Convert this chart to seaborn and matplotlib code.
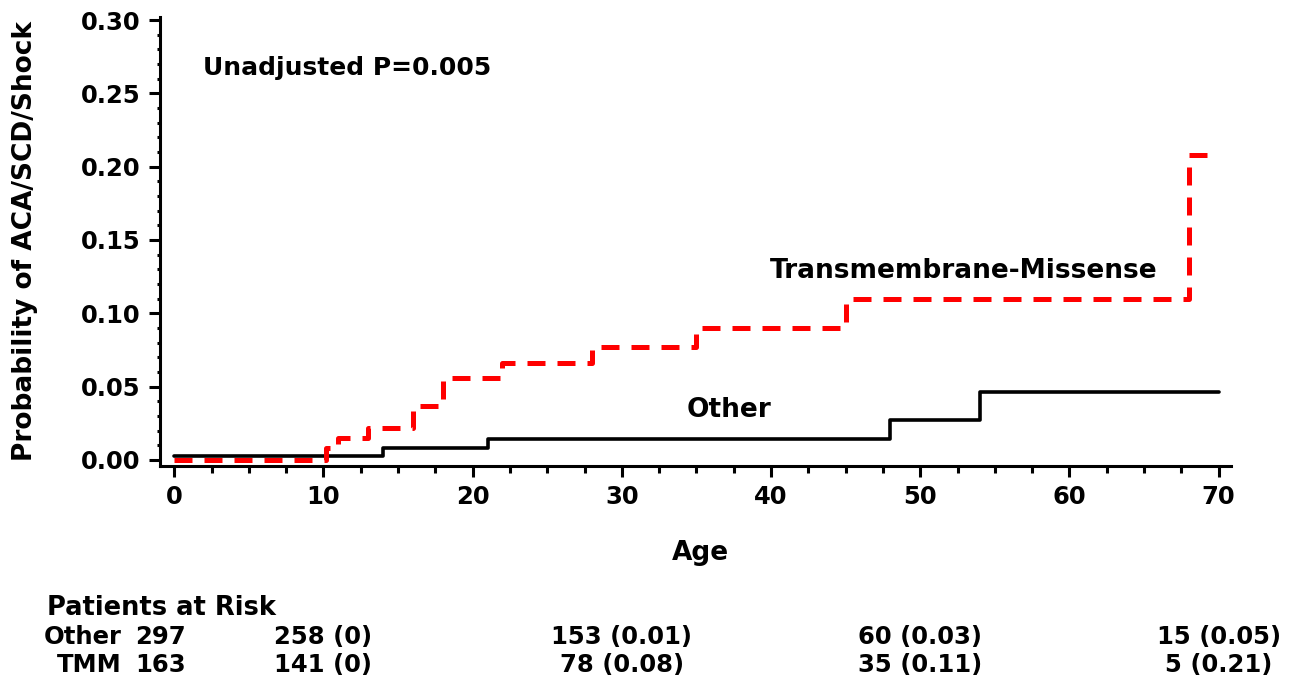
import numpy as np
import pandas as pd
import matplotlib
matplotlib.use("Agg")
import matplotlib.pyplot as plt
from matplotlib.ticker import MultipleLocator, FormatStrFormatter
import seaborn as sns

# step curves
other_age = [0, 14, 21, 48, 54, 70]
other_prob = [0.003, 0.008, 0.014, 0.027, 0.046, 0.046]
tmm_age = [0, 10.2, 11, 13, 16, 18, 22, 28, 35, 45, 68, 70]
tmm_prob = [0, 0.008, 0.015, 0.022, 0.037, 0.056, 0.066, 0.077, 0.090, 0.110, 0.208, 0.208]

# patients at risk table
risk_ages = [10, 30, 50, 70]
risk_groups = ["Other", "TMM"]
risk_start = [297, 163]
risk_other = ["258 (0)", "153 (0.01)", "60 (0.03)", "15 (0.05)"]
risk_tmm = ["141 (0)", "78 (0.08)", "35 (0.11)", "5 (0.21)"]

sns.set_style("ticks")
plt.rcParams["font.family"] = ["DejaVu Sans"]
plt.rcParams["font.weight"] = "bold"
for k in ["text.color", "axes.labelcolor", "xtick.color", "ytick.color", "axes.edgecolor"]:
    plt.rcParams[k] = "black"

fig = plt.figure(figsize=(12.96, 6.85), dpi=100)
ax = fig.add_axes([0.1235, 0.320, 0.826, 0.655])

sns.lineplot(x=other_age, y=other_prob, ax=ax, color="black", linewidth=2.6,
             drawstyle="steps-post", estimator=None)
sns.lineplot(x=tmm_age, y=tmm_prob, ax=ax, color="red", linewidth=3.6,
             drawstyle="steps-post", estimator=None)
ax.lines[-1].set_dashes([3.6, 2.4])

ax.set_xlim(-0.95, 70.8)
ax.set_ylim(-0.004, 0.302)
ax.xaxis.set_major_locator(MultipleLocator(10))
ax.xaxis.set_minor_locator(MultipleLocator(2.5))
ax.yaxis.set_major_locator(MultipleLocator(0.05))
ax.yaxis.set_minor_locator(MultipleLocator(0.01))
ax.yaxis.set_major_formatter(FormatStrFormatter("%.2f"))
sns.despine(ax=ax)
for s in ["left", "bottom"]:
    ax.spines[s].set_linewidth(2.2)
ax.tick_params(which="major", length=8, width=2.2, labelsize=17.5, pad=6)
ax.tick_params(axis="x", which="minor", length=5, width=2.2)
ax.tick_params(axis="y", which="minor", length=2, width=2.2)

ax.set_xlabel("Age", fontsize=19, fontweight="bold")
ax.set_ylabel("Probability of ACA/SCD/Shock", fontsize=19, fontweight="bold")
ax.xaxis.set_label_coords(0.505, -0.165)
ax.yaxis.set_label_coords(-0.114, 0.5)

ax.text(1.9, 0.267, "Unadjusted P=0.005", fontsize=18, fontweight="bold", va="center")
ax.text(52.9, 0.1287, "Transmembrane-Missense", fontsize=19, fontweight="bold",
        ha="center", va="center")
ax.text(37.2, 0.034, "Other", fontsize=19, fontweight="bold", ha="center", va="center")

# risk table below the axes
fig.text(47 / 1296, 1 - 608 / 685, "Patients at Risk", fontsize=18.5, fontweight="bold",
         va="center")
row_y = [637, 665]
rows = [risk_other, risk_tmm]
for g, n, vals, yy in zip(risk_groups, risk_start, rows, row_y):
    fy = 1 - yy / 685
    fig.text(122 / 1296, fy, g, fontsize=17.5, fontweight="bold", ha="right", va="center")
    fig.text(186 / 1296, fy, str(n), fontsize=17.5, fontweight="bold", ha="right", va="center")
    for a, v in zip(risk_ages, vals):
        px = ax.transData.transform((a, 0))[0]
        fig.text(px / 1296, fy, v, fontsize=17.5, fontweight="bold", ha="center", va="center")

fig.savefig("out.png", dpi=100)
